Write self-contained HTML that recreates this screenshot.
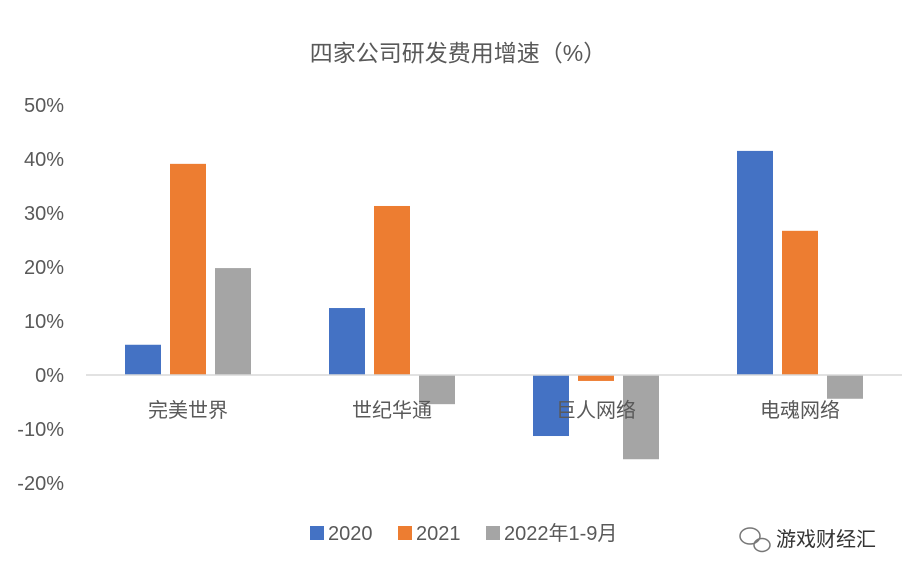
<!DOCTYPE html>
<html><head><meta charset="utf-8"><style>
body{margin:0;background:#fff;font-family:"Liberation Sans","Noto Sans CJK SC",sans-serif;}
svg text{font-family:"Liberation Sans","Noto Sans CJK SC",sans-serif;}
</style></head><body>
<svg id="chart" width="915" height="578" viewBox="0 0 915 578" xmlns="http://www.w3.org/2000/svg">
<rect width="915" height="578" fill="#fff"/>
<text x="458" y="61" text-anchor="middle" font-size="23" fill="#595959">四家公司研发费用增速（%）</text>
<g id="yaxis"></g><g id="bars"></g><g id="xlabels"></g>
<line x1="86" x2="902" y1="375" y2="375" stroke="#d9d9d9" stroke-width="1.5"/>
<g font-size="20" fill="#595959">
<rect x="310" y="526" width="14" height="14" fill="#4472c4"/>
<text x="328" y="540">2020</text>
<rect x="398" y="526" width="14" height="14" fill="#ed7d31"/>
<text x="416" y="540">2021</text>
<rect x="486" y="526" width="14" height="14" fill="#a5a5a5"/>
<text x="504" y="540">2022年1-9月</text>
</g>
<g>
<ellipse cx="750" cy="536" rx="10" ry="8" fill="none" stroke="#777" stroke-width="1.5"/>
<ellipse cx="762" cy="545" rx="8" ry="6.5" fill="none" stroke="#777" stroke-width="1.5"/>
<text x="776" y="546" font-size="20" fill="#333">游戏财经汇</text>
</g>
</svg>
<script>
const categories=["完美世界","世纪华通","巨人网络","电魂网络"];
const series2020=[5.6,12.4,-11.3,41.5];
const series2021=[39.1,31.3,-1.1,26.7];
const series2022=[19.8,-5.4,-15.6,-4.4];
const yTicks=[50,40,30,20,10,0,-10,-20];
const seriesList=[{name:"2020",vals:series2020,color:"#4472c4"},{name:"2021",vals:series2021,color:"#ed7d31"},{name:"2022",vals:series2022,color:"#a5a5a5"}];
const NS="http://www.w3.org/2000/svg";
const x0=86,x1=902,y0=375,pxPer=5.4;
const y=v=>y0-v*pxPer;
const band=(x1-x0)/categories.length;
const yg=document.getElementById("yaxis");
yTicks.forEach(t=>{const e=document.createElementNS(NS,"text");


e.setAttribute("x",64);e.setAttribute("y",y(t)+7);e.setAttribute("text-anchor","end");e.setAttribute("font-size","20");e.setAttribute("fill","#595959");e.textContent=t+"%";yg.appendChild(e);});
const bg=document.getElementById("bars"),xg=document.getElementById("xlabels");
const bw=36,gap=9;
categories.forEach((c,i)=>{const cx=x0+band*(i+0.5);
seriesList.forEach((s,j)=>{const v=s.vals[i];const r=document.createElementNS(NS,"rect");


const bx=cx-(bw*1.5+gap)+j*(bw+gap);
r.setAttribute("x",bx);r.setAttribute("width",bw);r.setAttribute("y",Math.min(y(v),y0));r.setAttribute("height",Math.abs(y(v)-y0));r.setAttribute("fill",s.color);bg.appendChild(r);});
const t=document.createElementNS(NS,"text");


t.setAttribute("x",cx);t.setAttribute("y",417);t.setAttribute("text-anchor","middle");t.setAttribute("font-size","20");t.setAttribute("fill","#595959");t.textContent=c;xg.appendChild(t);});
</script>
</body></html>
